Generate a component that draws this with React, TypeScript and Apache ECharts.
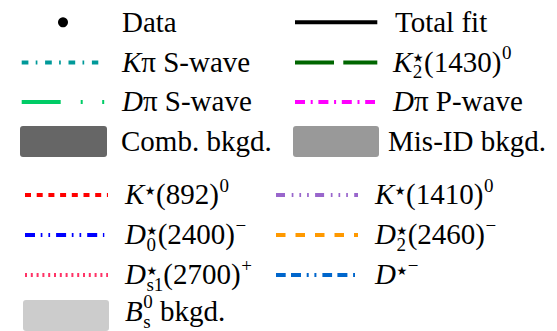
import React, { useEffect, useRef } from "react";
import * as echarts from "echarts";

// ---- legend content (labels use a tiny markup: #it{..} italic, ^{..} sup, _{..} sub)
const topLeftLabels = ["Data", "#it{K}π S-wave", "#it{D}π S-wave", "Comb. bkgd."];
const topLeftKinds = ["marker", "line", "line", "box"];
const topLeftColors = ["#000000", "#009999", "#00cc66", "#666666"];
const topLeftDashes: (number[] | null)[] = [null, [6.7, 7.3, 1.7, 7.7], [39, 20, 2, 19.5, 2, 40], null];

const topRightLabels = ["Total fit", "#it{K}^{★}_{2}(1430)^{0}", "#it{D}π P-wave", "Mis-ID bkgd."];
const topRightKinds = ["line", "line", "line", "box"];
const topRightColors = ["#000000", "#006600", "#ff00ff", "#999999"];
const topRightDashes: (number[] | null)[] = [null, [39, 9.3], [10, 5.7, 2, 5.7], null];

const botLeftLabels = ["#it{K}^{★}(892)^{0}", "#it{D}_{0}^{★}(2400)^{−}", "#it{D}_{s1}^{★}(2700)^{+}", "#it{B}^{0}_{s} bkgd."];
const botLeftKinds = ["line", "line", "line", "box"];
const botLeftColors = ["#ff0000", "#0000ff", "#ff3366", "#cccccc"];
const botLeftDashes: (number[] | null)[] = [[6, 5.7], [10, 5.7, 1.7, 6, 1.7, 6], [2, 3.8], null];

const botRightLabels = ["#it{K}^{★}(1410)^{0}", "#it{D}_{2}^{★}(2460)^{−}", "#it{D}^{★−}"];
const botRightKinds = ["line", "line", "line"];
const botRightColors = ["#9966cc", "#ff9900", "#0066cc"];
const botRightDashes: (number[] | null)[] = [
  [9, 6.7, 1.7, 6, 1.7, 6, 1.7, 6.3],
  [9.5, 10],
  [9.7, 5.3, 10, 5.7, 2, 5.7, 2, 6],
];

// ---- layout (positions kept separate from content)
const topRows = [22.3, 62.4, 102, 141.5];
const botRows = [195, 235, 275, 315.5];
const topTextRows = [22.3, 62.4, 102, 141.5];
const botTextRows = [195, 235, 275, 311.5];
const topLeftSample = [[63, 63], [21.7, 98.3], [21.7, 104.3], [20, 107]];
const topRightSample = [[295, 377.3], [295, 377.3], [295, 375], [293, 379]];
const botLeftSample = [[25, 108], [25, 104.3], [25, 108], [23, 109]];
const botRightSample = [[276, 358], [276, 358], [276, 355]];
const topLeftTextX = [122, 122, 122, 121];
const topRightTextX = [395, 393, 393, 388];
const botLeftTextX = [125, 125, 125, 125];
const botRightTextX = [375, 375, 375];

const FS = 29;
const SMALL = 19;
const STAR = 12;
const SERIF = "Liberation Serif";
const STAR_FONT = "DejaVu Sans";
const BASE_OFF = 9; // baseline below row centre
const CENTRAL = 0.3375; // central baseline above alphabetic, in em

type Seg = { text: string; kind: "n" | "it" | "sup" | "sub" };

function parse(s: string): Seg[] {
  const out: Seg[] = [];
  let i = 0;
  let buf = "";
  const flush = () => {
    if (buf) {
      out.push({ text: buf, kind: "n" });
      buf = "";
    }
  };
  while (i < s.length) {
    const rest = s.slice(i);
    let m: RegExpMatchArray | null;
    if ((m = rest.match(/^#it\{([^}]*)\}/))) {
      flush();
      out.push({ text: m[1], kind: "it" });
      i += m[0].length;
    } else if ((m = rest.match(/^\^\{([^}]*)\}/))) {
      flush();
      out.push({ text: m[1], kind: "sup" });
      i += m[0].length;
    } else if ((m = rest.match(/^_\{([^}]*)\}/))) {
      flush();
      out.push({ text: m[1], kind: "sub" });
      i += m[0].length;
    } else {
      buf += s[i];
      i++;
    }
  }
  flush();
  return out;
}

let ctx: CanvasRenderingContext2D | null = null;
function measure(text: string, size: number, family: string, style: string) {
  if (!ctx) ctx = document.createElement("canvas").getContext("2d");
  if (!ctx) return text.length * size * 0.5;
  ctx.font = `${style} ${size}px ${family}`;
  return ctx.measureText(text).width;
}

function textEl(text: string, x: number, yMid: number, size: number, family: string, style: string) {
  return {
    type: "text",
    x,
    y: yMid,
    silent: true,
    style: {
      text,
      fill: "#000",
      font: `${style} ${size}px ${family}`,
      align: "left",
      verticalAlign: "middle",
    },
  };
}

function labelEls(label: string, x0: number, base: number) {
  const els: any[] = [];
  const segs = parse(label);
  let x = x0;
  let scriptStart = x0;
  let scriptEnd = x0;
  let prevKind: string | null = null;
  for (const seg of segs) {
    if (seg.kind === "n" || seg.kind === "it") {
      const st = seg.kind === "it" ? "italic" : "normal";
      x = Math.max(x, scriptEnd);
      els.push(textEl(seg.text, x, base - CENTRAL * FS, FS, SERIF, st));
      x += measure(seg.text, FS, SERIF, st);
      scriptEnd = x;
    } else {
      const pairing = (prevKind === "sup" || prevKind === "sub") && prevKind !== seg.kind;
      let cx = pairing ? scriptStart : x + 0.5;
      if (!pairing) scriptStart = cx;
      const sBase = seg.kind === "sup" ? base - 0.42 * FS : base + 0.24 * FS;
      for (const ch of Array.from(seg.text)) {
        if (ch === "★") {
          els.push(textEl(ch, cx, base - 0.45 * FS, STAR, STAR_FONT, "normal"));
          cx += measure(ch, STAR, STAR_FONT, "normal") + 0.5;
        } else {
          els.push(textEl(ch, cx, sBase - CENTRAL * SMALL, SMALL, SERIF, "normal"));
          cx += measure(ch, SMALL, SERIF, "normal");
        }
      }
      scriptEnd = Math.max(scriptEnd, cx);
      x = scriptEnd;
    }
    prevKind = seg.kind;
  }
  return els;
}

function sampleEls(kind: string, color: string, dash: number[] | null, ext: number[], y: number) {
  if (kind === "marker") {
    return [{ type: "circle", silent: true, shape: { cx: ext[0], cy: y, r: 5 }, style: { fill: color } }];
  }
  if (kind === "box") {
    return [
      {
        type: "rect",
        silent: true,
        shape: { x: ext[0], y: y - 15.5, width: ext[1] - ext[0], height: 31, r: 3 },
        style: { fill: color },
      },
    ];
  }
  return [
    {
      type: "line",
      silent: true,
      shape: { x1: ext[0], y1: y, x2: ext[1], y2: y },
      style: { stroke: color, lineWidth: 4, lineDash: dash || undefined, lineCap: "butt" },
    },
  ];
}

function groupEls(
  labels: string[],
  kinds: string[],
  colors: string[],
  dashes: (number[] | null)[],
  samples: number[][],
  textX: number[],
  rows: number[],
  textRows: number[]
) {
  const els: any[] = [];
  labels.forEach((lab, i) => {
    els.push(...sampleEls(kinds[i], colors[i], dashes[i], samples[i], rows[i]));
    els.push(...labelEls(lab, textX[i], textRows[i] + BASE_OFF));
  });
  return els;
}

export default function App() {
  const ref = useRef<HTMLDivElement>(null);
  useEffect(() => {
    document.body.style.margin = "0";
    if (!ref.current) return;
    const chart = echarts.init(ref.current, undefined, { renderer: "svg" });
    const elements = [
      ...groupEls(topLeftLabels, topLeftKinds, topLeftColors, topLeftDashes, topLeftSample, topLeftTextX, topRows, topTextRows),
      ...groupEls(topRightLabels, topRightKinds, topRightColors, topRightDashes, topRightSample, topRightTextX, topRows, topTextRows),
      ...groupEls(botLeftLabels, botLeftKinds, botLeftColors, botLeftDashes, botLeftSample, botLeftTextX, botRows, botTextRows),
      ...groupEls(botRightLabels, botRightKinds, botRightColors, botRightDashes, botRightSample, botRightTextX, botRows, botTextRows),
    ];
    chart.setOption({
      animation: false,
      backgroundColor: "#ffffff",
      graphic: { elements },
    });
    return () => chart.dispose();
  }, []);
  return (
    <div
      ref={ref}
      style={{ position: "fixed", left: 0, top: 0, width: 557, height: 331, background: "#fff" }}
    />
  );
}
